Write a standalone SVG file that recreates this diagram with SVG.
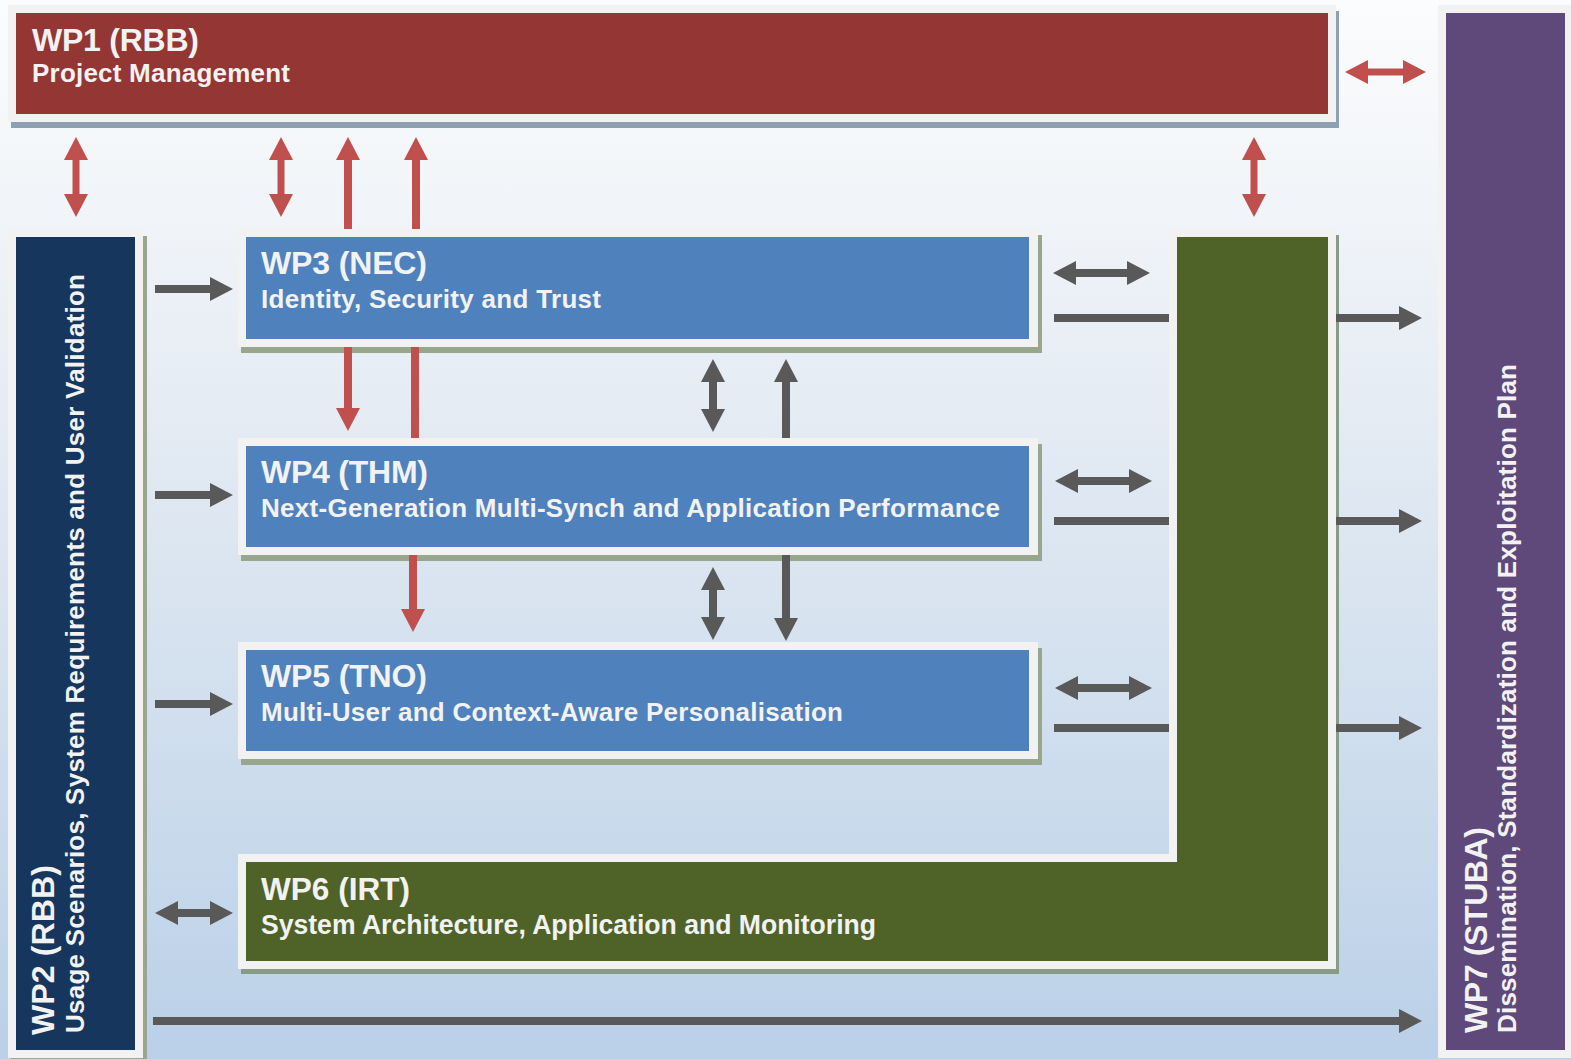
<svg xmlns="http://www.w3.org/2000/svg" width="1571" height="1059" viewBox="0 0 1571 1059">
<defs>
<linearGradient id="bg" x1="0" y1="0" x2="0" y2="1">
<stop offset="0" stop-color="#fbfcfd"/>
<stop offset="0.2" stop-color="#f1f4f8"/>
<stop offset="0.6" stop-color="#d6e2ef"/>
<stop offset="1" stop-color="#bad0e8"/>
</linearGradient>
<marker id="hr" viewBox="0 0 23 24" refX="0" refY="12" markerWidth="23" markerHeight="24" markerUnits="userSpaceOnUse" orient="auto-start-reverse"><path d="M0,0 L23,12 L0,24 z" fill="#c0504d"/></marker>
<marker id="hg" viewBox="0 0 23 24" refX="0" refY="12" markerWidth="23" markerHeight="24" markerUnits="userSpaceOnUse" orient="auto-start-reverse"><path d="M0,0 L23,12 L0,24 z" fill="#595959"/></marker>
</defs>
<style>
.frame{fill:#f2f2f2}
.shg{fill:#98a68e}
.shb{fill:#8ea0b4}
.red{fill:#943634}
.blue{fill:#4f81bd}
.navy{fill:#17365d}
.green{fill:#4f6228}
.purple{fill:#5f497a}
text{font-family:"Liberation Sans",Arial,sans-serif;font-weight:bold;fill:#f2f2f2}
.t{font-size:32px}
.s{font-size:26px}
.r{stroke:#c0504d;fill:none}
.g{stroke:#595959;fill:none;stroke-width:8}
</style>
<rect width="1571" height="1059" fill="url(#bg)"/>

<g id="wp1">
<rect class="shb" x="11" y="11" width="1328" height="117"/>
<rect class="frame" x="8" y="5" width="1328" height="117"/>
<rect class="red" x="16" y="13" width="1312" height="101"/>
<text class="t" x="32" y="51" textLength="167">WP1 (RBB)</text>
<text class="s" x="32" y="82" textLength="258">Project Management</text>
</g>

<g id="wp7">
<rect class="frame" x="1438" y="5" width="133" height="1053"/>
<rect class="purple" x="1446" y="13" width="119" height="1037"/>
<text class="t" transform="translate(1487,1033) rotate(-90)" textLength="206">WP7 (STUBA)</text>
<text class="s" transform="translate(1516,1033) rotate(-90)" textLength="669">Dissemination, Standardization and Exploitation Plan</text>
</g>

<g id="wp2">
<rect class="shg" x="11" y="236" width="136" height="828"/>
<rect class="frame" x="8" y="230" width="135" height="828"/>
<rect class="navy" x="16" y="237" width="119" height="813"/>
<text class="t" transform="translate(54,1035) rotate(-90)" textLength="170">WP2 (RBB)</text>
<text class="s" transform="translate(84,1033) rotate(-90)" textLength="759">Usage Scenarios, System Requirements and User Validation</text>
</g>

<g id="wp3">
<rect class="shg" x="241" y="235" width="801" height="118"/>
<rect class="frame" x="238" y="229" width="800" height="118"/>
<rect class="blue" x="246" y="237" width="783" height="102"/>
<text class="t" x="261" y="274" textLength="166">WP3 (NEC)</text>
<text class="s" x="261" y="308" textLength="340">Identity, Security and Trust</text>
</g>

<g id="wp4">
<rect class="shg" x="241" y="444" width="801" height="117"/>
<rect class="frame" x="238" y="438" width="800" height="117"/>
<rect class="blue" x="246" y="446" width="783" height="101"/>
<text class="t" x="261" y="483" textLength="167">WP4 (THM)</text>
<text class="s" x="261" y="517" textLength="739">Next-Generation Multi-Synch and Application Performance</text>
</g>

<g id="wp5">
<rect class="shg" x="241" y="648" width="801" height="117"/>
<rect class="frame" x="238" y="642" width="800" height="117"/>
<rect class="blue" x="246" y="650" width="783" height="101"/>
<text class="t" x="261" y="687" textLength="166">WP5 (TNO)</text>
<text class="s" x="261" y="721" textLength="582">Multi-User and Context-Aware Personalisation</text>
</g>

<g id="wp6">
<path fill="#879b86" d="M1172,235 H1339 V974 H241 V860 H1172 Z"/>
<path class="frame" d="M1169,229 H1336 V969 H238 V854 H1169 Z"/>
<path class="green" d="M1177,237 H1328 V961 H246 V862 H1177 Z"/>
<text class="t" x="261" y="900" textLength="149" lengthAdjust="spacingAndGlyphs">WP6 (IRT)</text>
<text class="s" x="261" y="934" textLength="615" lengthAdjust="spacingAndGlyphs" style="font-size:27px">System Architecture, Application and Monitoring</text>
</g>

<g id="connectors">
<line class="r" stroke-width="7" x1="76" y1="160" x2="76" y2="194" marker-start="url(#hr)" marker-end="url(#hr)"/>
<line class="r" stroke-width="7" x1="281" y1="160" x2="281" y2="194" marker-start="url(#hr)" marker-end="url(#hr)"/>
<line class="r" stroke-width="8" x1="348" y1="229" x2="348" y2="160" marker-end="url(#hr)"/>
<line class="r" stroke-width="8" x1="416" y1="229" x2="416" y2="160" marker-end="url(#hr)"/>
<line class="r" stroke-width="7" x1="1368" y1="72" x2="1403" y2="72" marker-start="url(#hr)" marker-end="url(#hr)"/>
<line class="r" stroke-width="7" x1="1254" y1="160" x2="1254" y2="194" marker-start="url(#hr)" marker-end="url(#hr)"/>
<line class="r" stroke-width="8" x1="348" y1="347" x2="348" y2="408" marker-end="url(#hr)"/>
<line class="r" stroke-width="8" x1="415" y1="347" x2="415" y2="438"/>
<line class="r" stroke-width="8" x1="413" y1="555" x2="413" y2="609" marker-end="url(#hr)"/>

<line class="g" x1="155" y1="289" x2="210" y2="289" marker-end="url(#hg)"/>
<line class="g" x1="155" y1="495" x2="210" y2="495" marker-end="url(#hg)"/>
<line class="g" x1="155" y1="704" x2="210" y2="704" marker-end="url(#hg)"/>
<line class="g" x1="178" y1="913" x2="210" y2="913" marker-start="url(#hg)" marker-end="url(#hg)"/>
<line class="g" x1="153" y1="1021" x2="1399" y2="1021" marker-end="url(#hg)"/>

<line class="g" x1="1076" y1="273" x2="1127" y2="273" marker-start="url(#hg)" marker-end="url(#hg)"/>
<line class="g" x1="1054" y1="318" x2="1169" y2="318"/>
<line class="g" x1="1336" y1="318" x2="1399" y2="318" marker-end="url(#hg)"/>
<line class="g" x1="1078" y1="481" x2="1129" y2="481" marker-start="url(#hg)" marker-end="url(#hg)"/>
<line class="g" x1="1054" y1="521" x2="1169" y2="521"/>
<line class="g" x1="1336" y1="521" x2="1399" y2="521" marker-end="url(#hg)"/>
<line class="g" x1="1078" y1="688" x2="1129" y2="688" marker-start="url(#hg)" marker-end="url(#hg)"/>
<line class="g" x1="1054" y1="728" x2="1169" y2="728"/>
<line class="g" x1="1336" y1="728" x2="1399" y2="728" marker-end="url(#hg)"/>

<line class="g" x1="713" y1="382" x2="713" y2="409" marker-start="url(#hg)" marker-end="url(#hg)"/>
<line class="g" x1="786" y1="438" x2="786" y2="382" marker-end="url(#hg)"/>
<line class="g" x1="713" y1="590" x2="713" y2="617" marker-start="url(#hg)" marker-end="url(#hg)"/>
<line class="g" x1="786" y1="555" x2="786" y2="618" marker-end="url(#hg)"/>
</g>
</svg>
